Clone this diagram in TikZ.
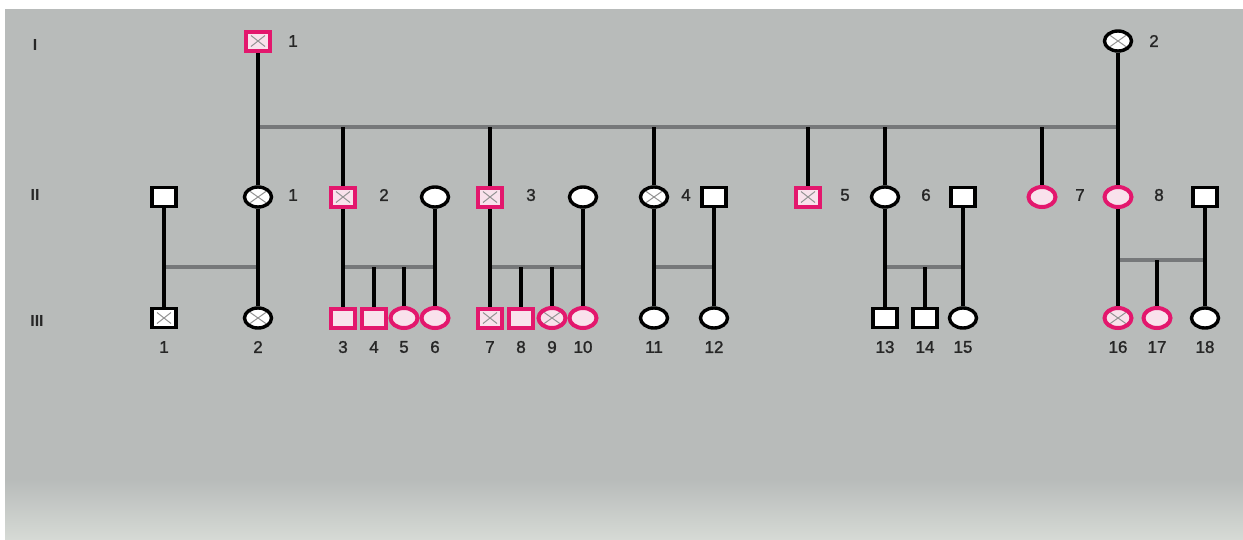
\documentclass[tikz,border=0pt]{standalone}
\usepackage{fontspec}
\setmainfont{Liberation Sans}
\newfontfamily\labelfont[FakeBold=1.3]{Liberation Sans}
\usetikzlibrary{shapes.geometric}
\definecolor{paper}{HTML}{B8BBBA}
\definecolor{paperlow}{HTML}{D6DAD5}
\definecolor{hot}{HTML}{E3176D}
\definecolor{hotfill}{HTML}{F9E2EC}
\definecolor{ink}{HTML}{262626}
\definecolor{bond}{HTML}{76787A}
\pgfdeclarelayer{bg}
\pgfdeclarelayer{edges}
\pgfsetlayers{bg,edges,main}
\tikzset{
  male/.style={rectangle, draw=black, fill=white, line width=3.4pt,
    minimum width=24pt, minimum height=19pt, inner sep=0pt},
  female/.style={ellipse, draw=black, fill=white, line width=3.4pt,
    minimum width=27pt, minimum height=20pt, inner sep=0pt},
  hotm/.style={male, draw=hot, fill=hotfill, line width=4pt},
  hotf/.style={female, draw=hot, fill=hotfill, line width=4pt},
  carrier/.style={path picture={
    \draw[line width=1pt, gray!85]
      ([shift={(5pt,4pt)}]path picture bounding box.south west) --
      ([shift={(-5pt,-4pt)}]path picture bounding box.north east)
      ([shift={(5pt,-4pt)}]path picture bounding box.north west) --
      ([shift={(-5pt,4pt)}]path picture bounding box.south east);}},
  num/.style={font=\labelfont\fontsize{17}{17}\selectfont, text=ink, inner sep=0pt},
  gen/.style={font=\fontsize{16}{16}\selectfont\bfseries, text=ink, inner sep=0pt},
  lineage/.style={draw=black, line width=3.8pt},
  marriage/.style={draw=bond, line width=3.2pt},
}
\begin{document}
\begin{tikzpicture}[x=1pt, y=-1pt]
\useasboundingbox (0,0) rectangle (1243,539);
\begin{pgfonlayer}{bg}
  \fill[white] (0,0) rectangle (1243,539);
  \fill[paper] (5,9) rectangle (1243,480);
  \shade[top color=paper, bottom color=paperlow] (5,479) rectangle (1243,539);
\end{pgfonlayer}

% generation numerals
\node[gen] (gI)   at (35,45)  {I};
\node[gen] (gII)  at (35,195) {II};
\node[gen] (gIII) at (37,321) {III};

% generation I
\node[hotm, carrier] (I1) at (258,41) {};
\node[num] (lI1) at (293,41) {1};
\node[female, carrier] (I2) at (1118,41) {};
\node[num] (lI2) at (1154,41) {2};

% generation II
\node[male]            (s1)   at (164,197) {};
\node[female, carrier] (II1)  at (258,197) {};
\node[num] at (293,195) {1};
\node[hotm, carrier]   (II2)  at (343,197) {};
\node[num] at (384,195) {2};
\node[female]          (s2)   at (435,197) {};
\node[hotm, carrier]   (II3)  at (490,197) {};
\node[num] at (531,195) {3};
\node[female]          (s3)   at (583,197) {};
\node[female, carrier] (II4)  at (654,197) {};
\node[num] at (686,195) {4};
\node[male]            (s4)   at (714,197) {};
\node[hotm, carrier]   (II5)  at (808,197) {};
\node[num] at (845,195) {5};
\node[female]          (II6)  at (885,197) {};
\node[num] at (926,195) {6};
\node[male]            (s6)   at (963,197) {};
\node[hotf]            (II7)  at (1042,197) {};
\node[num] at (1080,195) {7};
\node[hotf]            (II8)  at (1118,197) {};
\node[num] at (1159,195) {8};
\node[male]            (s8)   at (1205,197) {};

% generation III
\node[male, carrier]   (III1)  at (164,318) {};
\node[female, carrier] (III2)  at (258,318) {};
\node[hotm]            (III3)  at (343,318) {};
\node[hotm]            (III4)  at (374,318) {};
\node[hotf]            (III5)  at (404,318) {};
\node[hotf]            (III6)  at (435,318) {};
\node[hotm, carrier]   (III7)  at (490,318) {};
\node[hotm]            (III8)  at (521,318) {};
\node[hotf, carrier]   (III9)  at (552,318) {};
\node[hotf]            (III10) at (583,318) {};
\node[female]          (III11) at (654,318) {};
\node[female]          (III12) at (714,318) {};
\node[male]            (III13) at (885,318) {};
\node[male]            (III14) at (925,318) {};
\node[female]          (III15) at (963,318) {};
\node[hotf, carrier]   (III16) at (1118,318) {};
\node[hotf]            (III17) at (1157,318) {};
\node[female]          (III18) at (1205,318) {};

\foreach \n/\x in {1/164,2/258,3/343,4/374,5/404,6/435,7/490,8/521,9/552,
                   10/583,11/654,12/714,13/885,14/925,15/963,16/1118,
                   17/1157,18/1205}
  \node[num] (lIII\n) at (\x,347) {\n};

% couple and sibship bars
\coordinate (top)  at (258,127);
\coordinate (f1)   at (164,267);
\coordinate (f2)   at (343,267);
\coordinate (f3)   at (490,267);
\coordinate (f4)   at (654,267);
\coordinate (f6)   at (885,267);
\coordinate (f8)   at (1118,260);

\begin{pgfonlayer}{edges}
  \path[marriage] (I1 |- top) -- (I2 |- top);
  \path[marriage] (s1 |- f1) -- (II1 |- f1);
  \path[marriage] (II2 |- f2) -- (s2 |- f2);
  \path[marriage] (II3 |- f3) -- (s3 |- f3);
  \path[marriage] (II4 |- f4) -- (s4 |- f4);
  \path[marriage] (II6 |- f6) -- (s6 |- f6);
  \path[marriage] (II8 |- f8) -- (s8 |- f8);

  % parents of the first generation down to their children
  \path[lineage] (I1) -- (II1);
  \path[lineage] (I2) -- (II8);
  \foreach \c in {II2,II3,II4,II5,II6,II7}
    \path[lineage] (\c |- top) -- (\c);

  % second generation down to the third
  \path[lineage] (s1) -- (III1);
  \path[lineage] (II1) -- (III2);
  \path[lineage] (II2) -- (III3);
  \path[lineage] (III4 |- f2) -- (III4);
  \path[lineage] (III5 |- f2) -- (III5);
  \path[lineage] (s2) -- (III6);
  \path[lineage] (II3) -- (III7);
  \path[lineage] (III8 |- f3) -- (III8);
  \path[lineage] (III9 |- f3) -- (III9);
  \path[lineage] (s3) -- (III10);
  \path[lineage] (II4) -- (III11);
  \path[lineage] (s4) -- (III12);
  \path[lineage] (II6) -- (III13);
  \path[lineage] (III14 |- f6) -- (III14);
  \path[lineage] (s6) -- (III15);
  \path[lineage] (II8) -- (III16);
  \path[lineage] (III17 |- f8) -- (III17);
  \path[lineage] (s8) -- (III18);
\end{pgfonlayer}
\end{tikzpicture}
\end{document}
